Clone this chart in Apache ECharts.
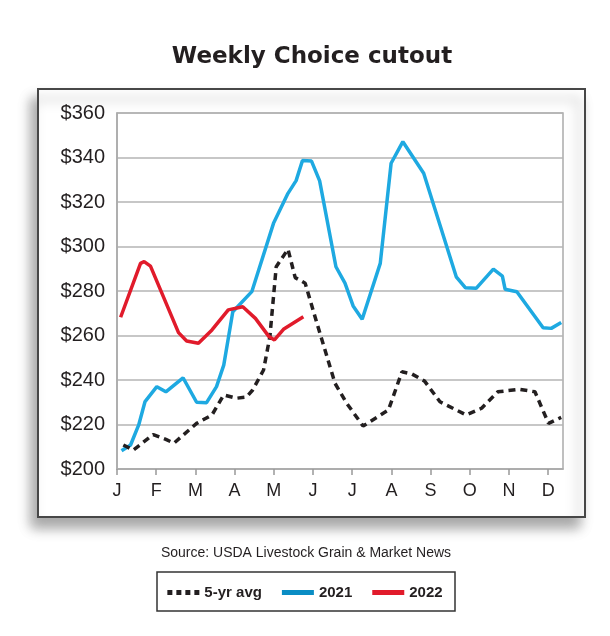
<!DOCTYPE html>
<html>
<head>
<meta charset="utf-8">
<title>Weekly Choice cutout</title>
<script src="https://cdn.jsdelivr.net/npm/echarts@6/dist/echarts.min.js"></script>
<style>
  html, body { margin: 0; padding: 0; background: #fff; }
  #main { width: 610px; height: 636px; }
</style>
</head>
<body>
<div id="main"></div>
<script>
// month letters, one tick every 52/12 weeks
var months = ['J', 'F', 'M', 'A', 'M', 'J', 'J', 'A', 'S', 'O', 'N', 'D'];
var weeksPerMonth = 52 / 12;
var yTicks = [200, 220, 240, 260, 280, 300, 320, 340, 360];

// [week of year, $/cwt]
var avg5 = [
  [0.7, 210.8], [1.8, 208.5], [4.0, 215.5], [5.4, 213.3], [6.3, 211.6],
  [8.8, 220.5], [10.5, 224.3], [11.8, 233.3], [13.2, 231.8], [14.3, 232.3],
  [15.0, 235.5], [16.2, 244.5], [16.9, 259.5], [17.6, 290.9], [18.9, 298.8],
  [19.7, 286.0], [20.8, 283.5], [22.1, 265.5], [24.1, 238.5], [25.4, 229.5],
  [27.2, 219.3], [30.0, 226.5], [31.5, 243.7], [32.6, 242.7], [34.0, 239.5],
  [35.7, 230.2], [38.6, 224.3], [40.3, 227.3], [42.1, 234.7], [44.5, 235.8],
  [46.2, 234.7], [47.7, 220.5], [49.1, 223.2]
];
var y2021 = [
  [0.5, 208.2], [1.5, 210.8], [2.4, 219.8], [3.1, 230.3], [4.4, 237.0],
  [5.4, 234.7], [7.3, 241.0], [8.8, 230.0], [9.9, 229.8], [11.0, 237.0],
  [11.8, 246.7], [12.8, 270.7], [14.9, 279.7], [17.3, 310.4], [18.9, 323.9],
  [19.8, 329.6], [20.5, 338.6], [21.5, 338.4], [22.4, 329.5], [24.2, 290.9],
  [25.2, 283.5], [26.1, 273.3], [27.1, 267.3], [29.1, 292.4], [30.3, 337.4],
  [31.6, 347.1], [33.9, 332.9], [37.5, 286.4], [38.5, 281.5], [39.7, 281.2],
  [41.6, 289.8], [42.6, 286.7], [42.9, 280.8], [44.2, 279.7], [47.1, 263.5],
  [48.0, 263.2], [49.1, 265.8]
];
var y2022 = [
  [0.4, 268.2], [2.6, 292.4], [3.0, 293.2], [3.7, 291.2], [6.8, 261.3],
  [7.7, 257.5], [9.0, 256.5], [10.5, 262.5], [12.3, 271.5], [13.9, 272.9],
  [15.3, 267.7], [16.8, 259.5], [17.4, 258.0], [18.4, 262.8], [20.6, 268.4]
];

var monthTicks = months.map(function (m, i) { return i * weeksPerMonth; });

// legend glyphs: four square dots, and a flat bar
var dotsIcon = 'path://M0,0h5v5h-5z M9,0h5v5h-5z M18,0h5v5h-5z M27,0h5v5h-5z';
var barIcon = 'path://M0,0h32v5h-32z';

var chart = echarts.init(document.getElementById('main'));
var option = {
  backgroundColor: '#fff',
  animation: false,
  graphic: [
    {
      type: 'rect', z: -10,
      shape: { x: 38, y: 89, width: 547, height: 428 },
      style: {
        fill: '#fff', stroke: '#474747', lineWidth: 2,
        shadowBlur: 12, shadowOffsetX: -6, shadowOffsetY: 10,
        shadowColor: 'rgba(0,0,0,0.35)'
      }
    },
    {
      type: 'text', x: 312, y: 57,
      style: {
        text: 'Weekly Choice cutout', align: 'center', verticalAlign: 'middle',
        fill: '#231f20', font: '900 23px "DejaVu Sans"'
      }
    },
    {
      type: 'text', x: 306, y: 553,
      style: {
        text: 'Source: USDA Livestock Grain & Market News', align: 'center',
        verticalAlign: 'middle', fill: '#231f20', font: '14px "Liberation Sans"'
      }
    },
    {
      type: 'rect', z: -10,
      shape: { x: 157, y: 572, width: 298, height: 39 },
      style: { fill: '#fff', stroke: '#333', lineWidth: 1.5 }
    }
  ],
  legend: {
    top: 580, left: 'center',
    itemWidth: 32, itemHeight: 5, itemGap: 20,
    textStyle: { fontFamily: 'Liberation Sans', fontWeight: 'bold', fontSize: 15, color: '#231f20' },
    data: [
      { name: '5-yr avg', icon: dotsIcon },
      { name: '2021', icon: barIcon, itemStyle: { color: '#0a8dc4' } },
      { name: '2022', icon: barIcon }
    ]
  },
  grid: {
    left: 117, right: 47, top: 113, bottom: 167,
    show: true, borderColor: '#aaa', borderWidth: 1.5
  },
  xAxis: {
    type: 'value', min: 0, max: 49.3,
    splitLine: { show: false },
    axisLine: { show: true, lineStyle: { color: '#aaa', width: 1.5 } },
    axisTick: { show: true, length: 6, lineStyle: { color: '#999', width: 1.5 }, customValues: monthTicks },
    axisLabel: {
      customValues: monthTicks, margin: 13, fontSize: 18, color: '#231f20',
      fontFamily: 'Liberation Sans',
      formatter: function (v) { return months[Math.round(v / weeksPerMonth)] || ''; }
    }
  },
  yAxis: {
    type: 'value', min: yTicks[0], max: yTicks[yTicks.length - 1], interval: 20,
    axisLine: { show: true, lineStyle: { color: '#aaa', width: 1.5 } },
    axisTick: { show: false },
    splitLine: { lineStyle: { color: '#b5b5b5', width: 1.5 } },
    axisLabel: {
      margin: 12, fontSize: 20, color: '#231f20', fontFamily: 'Liberation Sans',
      formatter: '${value}'
    }
  },
  series: [
    {
      name: '5-yr avg', type: 'line', data: avg5, symbol: 'none', z: 3,
      itemStyle: { color: '#231f20' },
      lineStyle: { color: '#231f20', width: 3.5, type: [7, 5] }
    },
    {
      name: '2021', type: 'line', data: y2021, symbol: 'none', z: 2,
      itemStyle: { color: '#1ea9e1' },
      lineStyle: { color: '#1ea9e1', width: 3.5 }
    },
    {
      name: '2022', type: 'line', data: y2022, symbol: 'none', z: 4,
      itemStyle: { color: '#e11b2b' },
      lineStyle: { color: '#e11b2b', width: 3.5 }
    }
  ]
};
chart.setOption(option);
</script>
</body>
</html>
